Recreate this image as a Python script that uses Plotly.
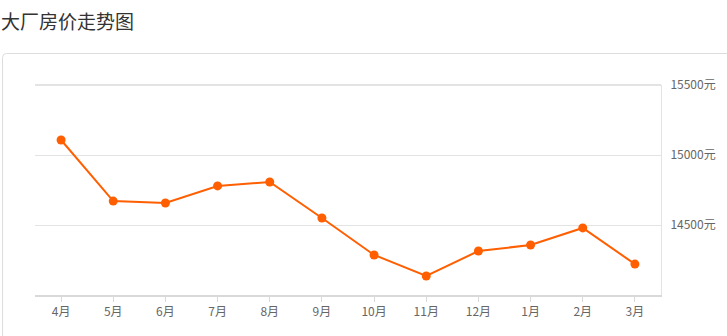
import plotly.graph_objects as go

months = ["4月", "5月", "6月", "7月", "8月", "9月", "10月", "11月", "12月", "1月", "2月", "3月"]
prices = [15107, 14671, 14657, 14779, 14807, 14550, 14286, 14136, 14314, 14357, 14479, 14221]
y_ticks = [14500, 15000, 15500]

W, H = 727, 336
L, R, T, B = 35, 661, 85, 295

def px(x):
    return (x - L) / (R - L)

def py(y):
    return (B - y) / (B - T)

fig = go.Figure()
fig.add_trace(go.Scatter(
    x=months, y=prices, mode="lines+markers",
    line=dict(color="#ff5f00", width=2),
    marker=dict(color="#ff5f00", size=9),
    hoverinfo="x+y",
))

r = 4
x0, yt = 2.5, 53.5
card = (f"M {px(x0)},{py(400)} L {px(x0)},{py(yt + r)} "
        f"Q {px(x0)},{py(yt)} {px(x0 + r)},{py(yt)} L {px(800)},{py(yt)}")

fig.update_layout(
    width=W, height=H,
    margin=dict(l=L, r=W - R, t=T, b=H - B),
    paper_bgcolor="white", plot_bgcolor="white",
    showlegend=False,
    font=dict(family="Noto Sans CJK SC, sans-serif", color="#666", size=12),
    title=dict(text="大厂房价走势图", x=1 / W, xref="container", xanchor="left",
               y=1 - 22 / H, yref="container", yanchor="middle",
               font=dict(size=19, color="#333", family="Noto Sans CJK SC, sans-serif"),
               pad=dict(l=0, t=0, b=0, r=0)),
    xaxis=dict(
        type="category", range=[-0.5, len(months) - 0.5],
        showgrid=False, showline=True, linecolor="#d9d9d9", linewidth=2,
        ticks="outside", ticklen=5, tickcolor="#d9d9d9", tickwidth=1,
        tickfont=dict(size=12, color="#666"), fixedrange=True, zeroline=False,
    ),
    yaxis=dict(
        side="right", range=[14000, 15500],
        tickvals=y_ticks, ticktext=[f"{v}元" for v in y_ticks],
        showgrid=True, gridcolor="#e3e3e3", gridwidth=1,
        showline=True, linecolor="#e3e3e3", linewidth=1,
        ticks="", ticklabelstandoff=6,
        tickfont=dict(size=12, color="#666"), zeroline=False, fixedrange=True,
    ),
    shapes=[
        dict(type="path", path=card, xref="paper", yref="paper",
             line=dict(color="#dddddd", width=1), layer="below"),
        dict(type="line", xref="paper", yref="paper", x0=0, x1=1, y0=1, y1=1,
             line=dict(color="#e3e3e3", width=2), layer="below"),
    ],
)

fig.write_html("out.html")
